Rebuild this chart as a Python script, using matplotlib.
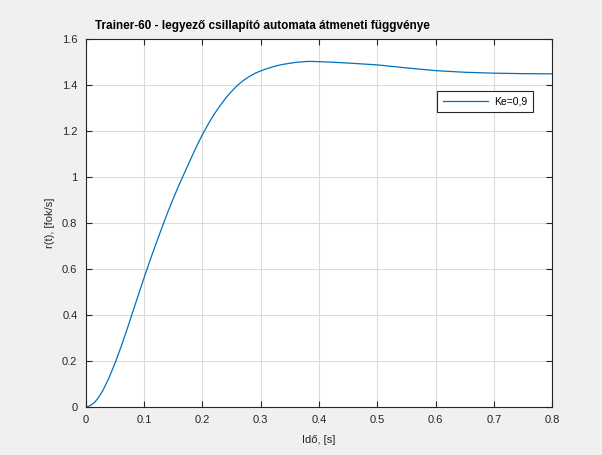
import numpy as np
import matplotlib.pyplot as plt
from matplotlib.ticker import FormatStrFormatter

plt.rcParams['font.family'] = ['Liberation Sans', 'DejaVu Sans']

# step response
t = [0.0, 0.005, 0.01, 0.015, 0.02, 0.025, 0.03, 0.04, 0.05, 0.06, 0.07, 0.08, 0.09,
     0.10, 0.11, 0.12, 0.13, 0.14, 0.15, 0.16, 0.17, 0.18, 0.19,
     0.20, 0.21, 0.22, 0.23, 0.24, 0.25, 0.26, 0.27, 0.28, 0.29,
     0.30, 0.31, 0.32, 0.33, 0.34, 0.35, 0.36, 0.37, 0.38, 0.39,
     0.40, 0.42, 0.45, 0.50, 0.55, 0.60, 0.65, 0.70, 0.75, 0.80]
r = [0.0, 0.003, 0.01, 0.02, 0.035, 0.054, 0.075, 0.128, 0.19, 0.258, 0.332, 0.409, 0.486,
     0.562, 0.636, 0.707, 0.776, 0.843, 0.906, 0.966, 1.022, 1.078, 1.133,
     1.184, 1.230, 1.272, 1.309, 1.343, 1.372, 1.398, 1.419, 1.436, 1.450,
     1.461, 1.470, 1.478, 1.485, 1.490, 1.494, 1.498, 1.500, 1.502, 1.502,
     1.501, 1.499, 1.495, 1.487, 1.474, 1.462, 1.455, 1.451, 1.449, 1.448]

xticks = [0, 0.1, 0.2, 0.3, 0.4, 0.5, 0.6, 0.7, 0.8]
yticks = [0, 0.2, 0.4, 0.6, 0.8, 1.0, 1.2, 1.4, 1.6]

fig = plt.figure(figsize=(6.02, 4.55), dpi=100, facecolor='#f0f0f0')
ax = fig.add_axes([0.1425, 0.1055, 0.775, 0.809])

ax.plot(t, r, color='#0072BD', linewidth=0.9, label='Ke=0,9')

ax.set_xlim(0, 0.8)
ax.set_ylim(0, 1.6)
ax.set_xticks(xticks)
ax.set_yticks(yticks)
ax.xaxis.set_major_formatter(FormatStrFormatter('%g'))
ax.yaxis.set_major_formatter(FormatStrFormatter('%g'))
ax.tick_params(direction='in', length=4, width=0.8, top=True, right=True,
               labelsize=8, colors='#262626', pad=6)
for s in ax.spines.values():
    s.set_color('#262626')
    s.set_linewidth(0.8)
ax.grid(True, color='#dcdcdc', linewidth=0.8)
ax.set_axisbelow(True)

ax.set_title('Trainer-60 - legyező csillapító automata átmeneti függvénye',
             fontsize=8.5, fontweight='bold', color='black', x=0.378, pad=7)
ax.set_xlabel('Idő, [s]', fontsize=8, color='#262626', labelpad=7)
ax.set_ylabel('r(t), [fok/s]', fontsize=8, color='#262626', labelpad=5)

leg = ax.legend(loc='upper right', bbox_to_anchor=(0.959, 0.859), borderaxespad=0,
                fancybox=False, framealpha=1, edgecolor='#262626', fontsize=7.5,
                handlelength=4.3, handletextpad=0.6, borderpad=0.55)
leg.get_frame().set_linewidth(0.8)

fig.savefig('out.png', dpi=100, facecolor=fig.get_facecolor())
